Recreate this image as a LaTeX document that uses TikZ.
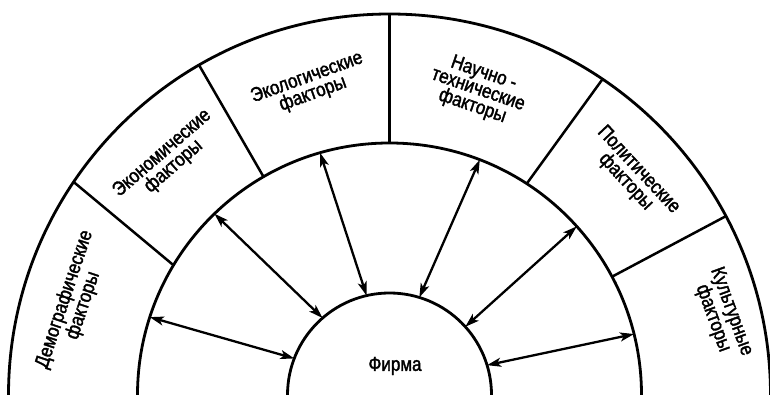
\documentclass[tikz,border=0pt]{standalone}
\usepackage{fontspec}
\setmainfont{Liberation Sans}
\newfontfamily\lblfont{Liberation Sans}[FakeStretch=0.85,FakeBold=1.8]
\usetikzlibrary{arrows.meta}
\begin{document}
\begin{tikzpicture}[x=1pt,y=1pt,
  ring/.style={circle,draw,line width=2.8pt,inner sep=0pt,outer sep=0pt},
  divider/.style={line width=2.5pt},
  link/.style={line width=2.3pt,>={Stealth[length=14pt,width=9pt,inset=3.5pt]},<->},
  lbl/.style={font=\lblfont\fontsize{20}{17.5}\selectfont,align=center,inner sep=0pt}]
\useasboundingbox (0,0) rectangle (770,394);
\clip (0,0) rectangle (770,394);
\coordinate (c) at (389.5,-1);
\node[ring,minimum size=204pt] (firm) at (c) {};
\node[ring,minimum size=504pt] (mid) at (c) {};
\node[ring,minimum size=762pt] (outer) at (c) {};
% dividers
\draw[divider] (mid.149.3) -- (outer.146.8);
\draw[divider] (mid.120.4) -- (outer.120.6);
\draw[divider] (mid.90.7) -- (outer.90.4);
\draw[divider] (mid.57.3) -- (outer.56.8);
\draw[divider] (mid.28.1) -- (outer.28.8);
% arrows
\draw[link] (firm.159.4) -- (mid.162.2);
\draw[link] (firm.131.4) -- (mid.134.3);
\draw[link] (firm.103.8) -- (mid.106.2);
\draw[link] (firm.73.5) -- (mid.69.7);
\draw[link] (firm.42.3) -- (mid.42.1);
\draw[link] (firm.17.7) -- (mid.14);
% labels
\node[lbl,rotate=71.6] (dem) at (74,91.5) {Демографические\\факторы};
\node[lbl,rotate=41] (econ) at (168,234) {Экономические\\факторы};
\node[lbl,rotate=20] (ecol) at (310,308) {Экологические\\факторы};
\node[lbl,rotate=-19] (sci) at (478,304) {Научно -\\технические\\факторы};
\node[lbl,rotate=-47] (pol) at (632,218) {Политические\\факторы};
\node[lbl,rotate=-70] (cult) at (722,79) {Культурные\\факторы};
\node[lbl] (firmlbl) at (395,28) {Фирма};
\end{tikzpicture}
\end{document}
